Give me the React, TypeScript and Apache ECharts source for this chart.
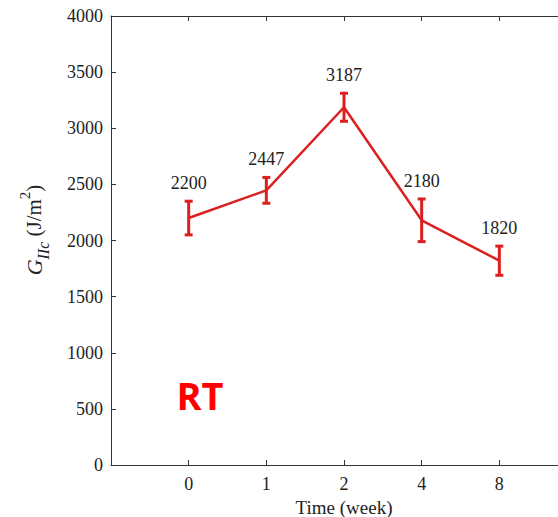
import React, { useEffect, useRef } from "react";
import * as echarts from "echarts";

const categories = ["0", "1", "2", "4", "8"];
const values = [2200, 2447, 3187, 2180, 1820];
const errors = [150, 115, 125, 190, 130];
const yTicks = { min: 0, max: 4000, interval: 500 };

const RED = "#DC2020";
const SERIF = "'Liberation Serif', 'Times New Roman', serif";

export default function App() {
  const ref = useRef<HTMLDivElement>(null);
  useEffect(() => {
    if (!ref.current) return;
    const chart = echarts.init(ref.current, null, { renderer: "svg" });
    const lineData = values.map((v, i) => [i, v]);
    const errData = values.map((v, i) => [i, v - errors[i], v + errors[i], v]);
    const axisLine = { lineStyle: { color: "#333", width: 1 } };
    chart.setOption({
      animation: false,
      backgroundColor: "#fff",
      grid: { left: 111, right: -19, top: 16, bottom: 52, containLabel: false, outerBoundsMode: "none" },
      xAxis: [
        {
          type: "value",
          min: -1,
          max: 5,
          interval: 1,
          position: "bottom",
          axisLine: { show: true, onZero: false, ...axisLine },
          axisTick: { show: true, inside: true, length: 5, lineStyle: { color: "#333" } },
          splitLine: { show: false },
          axisLabel: {
            margin: 10,
            color: "#222",
            fontFamily: SERIF,
            fontSize: 18,
            formatter: (v: number) => (v >= 0 && v < categories.length ? categories[v] : ""),
          },
          name: "Time (week)",
          nameLocation: "middle",
          nameGap: 30,
          nameTextStyle: { color: "#222", fontFamily: SERIF, fontSize: 19 },
        },
        {
          type: "value",
          min: -1,
          max: 5,
          interval: 1,
          position: "top",
          axisLine: { show: true, onZero: false, ...axisLine },
          axisTick: { show: true, inside: true, length: 5, lineStyle: { color: "#333" } },
          splitLine: { show: false },
          axisLabel: { show: false },
        },
      ],
      yAxis: {
        type: "value",
        min: yTicks.min,
        max: yTicks.max,
        interval: yTicks.interval,
        axisLine: { show: true, onZero: false, ...axisLine },
        axisTick: { show: true, inside: true, length: 5, lineStyle: { color: "#333" } },
        splitLine: { show: false },
        axisLabel: {
          margin: 8,
          color: "#222",
          fontFamily: SERIF,
          fontSize: 18,
          formatter: (v: number) => String(v),
        },
      },
      graphic: [
        {
          type: "text",
          x: 34,
          y: 230,
          rotation: Math.PI / 2,
          style: {
            text: "{g|G}{s|IIc}{n| (J/m}{p|2}{n|)}",
            align: "center",
            verticalAlign: "middle",
            fill: "#222",
            rich: {
              g: { fontFamily: SERIF, fontSize: 22, fontStyle: "italic", fill: "#222", lineHeight: 34, verticalAlign: "middle" },
              s: { fontFamily: SERIF, fontSize: 16, fontStyle: "italic", fill: "#222", lineHeight: 14, verticalAlign: "bottom" },
              n: { fontFamily: SERIF, fontSize: 21, fill: "#222", lineHeight: 34, verticalAlign: "middle" },
              p: { fontFamily: SERIF, fontSize: 15, fill: "#222", lineHeight: 16, verticalAlign: "top" },
            },
          },
        },
        {
          type: "text",
          x: 200,
          y: 395,
          style: {
            text: "RT",
            align: "center",
            verticalAlign: "middle",
            fill: "#FF0000",
            fontFamily: "'Open Sans', 'Noto Sans', sans-serif",
            fontWeight: "bold",
            fontSize: 38,
          },
        },
      ],
      series: [
        {
          type: "line",
          data: lineData,
          symbol: "none",
          lineStyle: { color: RED, width: 2.5 },
          z: 2,
        },
        {
          type: "custom",
          data: errData,
          z: 3,
          renderItem: (params: any, api: any) => {
            const x = api.value(0);
            const lo = api.coord([x, api.value(1)]);
            const hi = api.coord([x, api.value(2)]);
            const cap = 4;
            const st = { stroke: RED, lineWidth: 3 };
            return {
              type: "group",
              children: [
                { type: "line", shape: { x1: lo[0], y1: lo[1], x2: hi[0], y2: hi[1] }, style: st },
                { type: "line", shape: { x1: lo[0] - cap, y1: lo[1], x2: lo[0] + cap, y2: lo[1] }, style: st },
                { type: "line", shape: { x1: hi[0] - cap, y1: hi[1], x2: hi[0] + cap, y2: hi[1] }, style: st },
                {
                  type: "text",
                  x: hi[0],
                  y: hi[1] - 18,
                  style: {
                    text: String(api.value(3)),
                    align: "center",
                    verticalAlign: "middle",
                    fill: "#222",
                    fontFamily: SERIF,
                    fontSize: 18,
                  },
                },
              ],
            };
          },
        },
      ],
    });
    return () => chart.dispose();
  }, []);
  return (
    <div
      ref={ref}
      style={{ position: "fixed", left: 0, top: 0, width: 558, height: 517, overflow: "hidden" }}
    />
  );
}
